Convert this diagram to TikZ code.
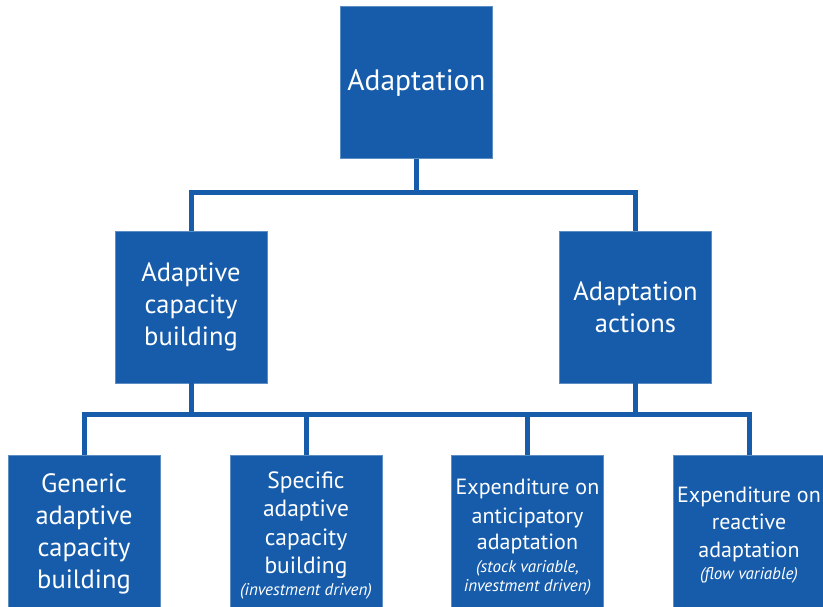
\documentclass[tikz,border=0pt]{standalone}
\usepackage{fontspec}
\setmainfont{PT Sans}
\definecolor{boxblue}{HTML}{165CAA}
\begin{document}
\begin{tikzpicture}[x=1pt,y=-1pt,
  box/.style={fill=boxblue, draw=boxblue!70!white, line width=0.6pt, minimum width=152pt, minimum height=152pt, inner sep=0pt},
  txt/.style={text=white, align=center, inner sep=0pt},
  conn/.style={draw=boxblue, line width=5pt, line join=miter},
  bigfont/.style={font=\fontsize{29.5}{34}\selectfont},
  midfont/.style={font=\fontsize{26.5}{32}\selectfont},
  smfont/.style={font=\fontsize{23.5}{28.5}\selectfont},
  xsfont/.style={font=\fontsize{22}{27.5}\selectfont}]
\useasboundingbox (0,0) rectangle (823,606);
\clip (0,0) rectangle (823,606);
\newcommand{\itl}[1]{{\itshape\fontsize{17}{18}\selectfont #1}}
% boxes
\node[box] (top) at (416.5,82.5) {};
\node[box] (ml) at (191,307) {};
\node[box] (mr) at (635.5,307) {};
\node[box] (b1) at (84,531) {};
\node[box] (b2) at (306,531) {};
\node[box] (b3) at (527.5,531) {};
\node[box] (b4) at (749,531) {};
% texts
\node[txt, bigfont] (topt) at (top.center) {Adaptation};
\node[txt, midfont] (mlt) at (ml.center) {Adaptive\\capacity\\building};
\node[txt, midfont] (mrt) at (mr.center) {Adaptation\\actions};
\node[txt, midfont] (b1t) at ([yshift=-2.5pt]b1.center) {Generic\\adaptive\\capacity\\building};
\node[txt, smfont] (b2t) at ([yshift=-4pt]b2.center) {Specific\\adaptive\\capacity\\building\\[-7pt]\itl{(investment driven)}};
\node[txt, xsfont] (b3t) at ([yshift=-6pt]b3.center) {Expenditure on\\[1.5pt]anticipatory\\[-1.5pt]adaptation\\[-5pt]\itl{(stock variable,}\\[-8.5pt]\itl{investment driven)}};
\node[txt, xsfont] (b4t) at ([yshift=-4pt]b4.center) {Expenditure on\\reactive\\adaptation\\[-5.5pt]\itl{(flow variable)}};
% junctions
\coordinate (j1) at (416.5,192.5);
\coordinate (j2) at (191,414.5);
% connectors
\draw[conn] (top.south) -- (j1);
\draw[conn] (ml.north) |- (j1) -| (mr.north);
\draw[conn] (ml.south) -- (j2);
\draw[conn] (mr.south) -- (mr.south |- j2);
\draw[conn] (b1.north) |- (j2) -| (b4.north);
\draw[conn] (b2.north) -- (b2.north |- j2);
\draw[conn] (b3.north) -- (b3.north |- j2);
\end{tikzpicture}
\end{document}
